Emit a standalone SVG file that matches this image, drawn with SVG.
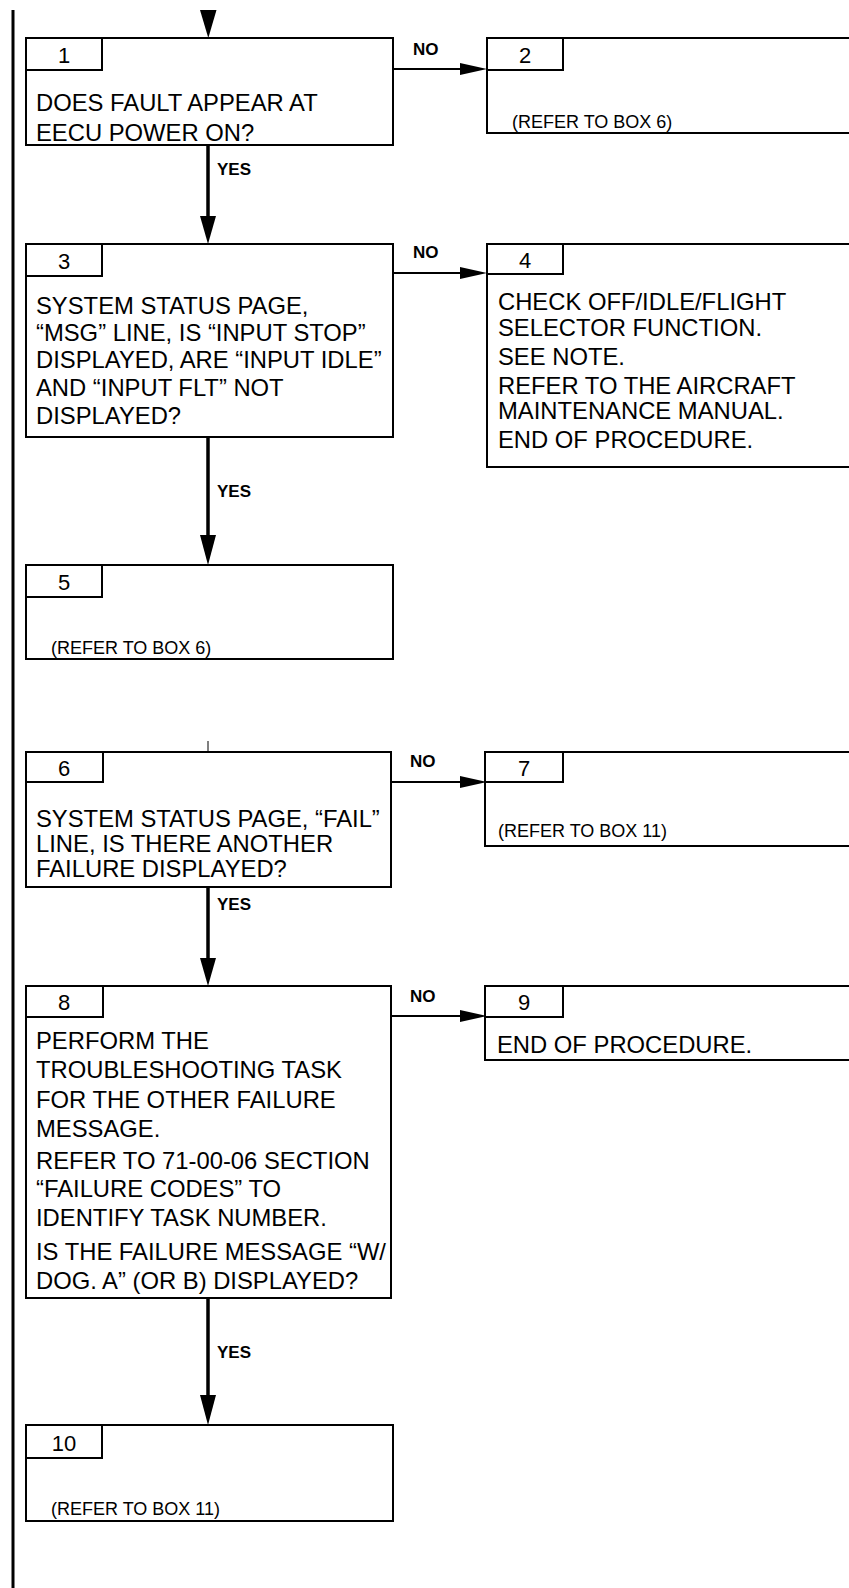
<svg xmlns="http://www.w3.org/2000/svg" width="849" height="1588" viewBox="0 0 849 1588">
<style>
.box{fill:#fff;stroke:#000;stroke-width:2}
.tab{fill:none;stroke:#000;stroke-width:2}
.num{font-family:"Liberation Sans",Arial,sans-serif;font-size:22px;text-anchor:middle;fill:#000}
.t{font-family:"Liberation Sans",Arial,sans-serif;font-size:23.8px;fill:#000}
.r{font-family:"Liberation Sans",Arial,sans-serif;font-size:18px;fill:#000}
.lbl{font-family:"Liberation Sans",Arial,sans-serif;font-size:17px;font-weight:bold;fill:#000}
.v{stroke:#000;stroke-width:3.5;fill:none}
.h{stroke:#000;stroke-width:2;fill:none}
.ah{fill:#000}
</style>
<rect x="0" y="0" width="849" height="1588" fill="#fff"/>
<line x1="13" y1="10" x2="13" y2="1588" stroke="#000" stroke-width="3"/>

<g id="connectors">
  <polygon class="ah" points="200,10 216.5,10 208.3,38"/>
  <line class="v" x1="208" y1="145" x2="208" y2="218"/>
  <polygon class="ah" points="200,216 216,216 208,244"/>
  <text class="lbl" x="217" y="175">YES</text>
  <line class="h" x1="393" y1="69" x2="462" y2="69"/>
  <polygon class="ah" points="460,63 487,69 460,75"/>
  <text class="lbl" x="413" y="55">NO</text>

  <line class="v" x1="208" y1="437" x2="208" y2="537"/>
  <polygon class="ah" points="200,535 216,535 208,565"/>
  <text class="lbl" x="217" y="497">YES</text>
  <line class="h" x1="393" y1="273" x2="462" y2="273"/>
  <polygon class="ah" points="460,267 487,273 460,279"/>
  <text class="lbl" x="413" y="258">NO</text>

  <line x1="208" y1="741" x2="208" y2="752" stroke="#000" stroke-width="1"/>

  <line class="v" x1="208" y1="887" x2="208" y2="960"/>
  <polygon class="ah" points="200,958 216,958 208,986"/>
  <text class="lbl" x="217" y="910">YES</text>
  <line class="h" x1="391" y1="782" x2="462" y2="782"/>
  <polygon class="ah" points="460,776 487,782 460,788"/>
  <text class="lbl" x="410" y="767">NO</text>

  <line class="h" x1="391" y1="1016" x2="462" y2="1016"/>
  <polygon class="ah" points="460,1010 487,1016 460,1022"/>
  <text class="lbl" x="410" y="1002">NO</text>

  <line class="v" x1="208" y1="1298" x2="208" y2="1397"/>
  <polygon class="ah" points="200,1395 216,1395 208,1425"/>
  <text class="lbl" x="217" y="1358">YES</text>
</g>

<g id="box1">
  <rect class="box" x="26" y="38" width="367" height="107"/>
  <rect class="tab" x="26" y="38" width="76" height="32"/>
  <text class="num" x="64" y="63">1</text>
  <text class="t" x="36" y="111">DOES FAULT APPEAR AT</text>
  <text class="t" x="36" y="141">EECU POWER ON?</text>
</g>

<g id="box2">
  <rect class="box" x="487" y="38" width="380" height="95"/>
  <rect class="tab" x="487" y="38" width="76" height="32"/>
  <text class="num" x="525" y="63">2</text>
  <text class="r" x="512" y="128">(REFER TO BOX 6)</text>
</g>

<g id="box3">
  <rect class="box" x="26" y="244" width="367" height="193"/>
  <rect class="tab" x="26" y="244" width="76" height="32"/>
  <text class="num" x="64" y="269">3</text>
  <text class="t" x="36" y="314">SYSTEM STATUS PAGE,</text>
  <text class="t" x="36" y="341">“MSG” LINE, IS “INPUT STOP”</text>
  <text class="t" x="36" y="368">DISPLAYED, ARE “INPUT IDLE”</text>
  <text class="t" x="36" y="396">AND “INPUT FLT” NOT</text>
  <text class="t" x="36" y="424">DISPLAYED?</text>
</g>

<g id="box4">
  <rect class="box" x="487" y="244" width="380" height="223"/>
  <rect class="tab" x="487" y="244" width="76" height="30"/>
  <text class="num" x="525" y="268">4</text>
  <text class="t" x="498" y="310">CHECK OFF/IDLE/FLIGHT</text>
  <text class="t" x="498" y="336">SELECTOR FUNCTION.</text>
  <text class="t" x="498" y="365">SEE NOTE.</text>
  <text class="t" x="498" y="394">REFER TO THE AIRCRAFT</text>
  <text class="t" x="498" y="419">MAINTENANCE MANUAL.</text>
  <text class="t" x="498" y="448">END OF PROCEDURE.</text>
</g>

<g id="box5">
  <rect class="box" x="26" y="565" width="367" height="94"/>
  <rect class="tab" x="26" y="565" width="76" height="32"/>
  <text class="num" x="64" y="590">5</text>
  <text class="r" x="51" y="654">(REFER TO BOX 6)</text>
</g>

<g id="box6">
  <rect class="box" x="26" y="752" width="365" height="135"/>
  <rect class="tab" x="26" y="752" width="77" height="30"/>
  <text class="num" x="64" y="776">6</text>
  <text class="t" x="36" y="827">SYSTEM STATUS PAGE, “FAIL”</text>
  <text class="t" x="36" y="852">LINE, IS THERE ANOTHER</text>
  <text class="t" x="36" y="877">FAILURE DISPLAYED?</text>
</g>

<g id="box7">
  <rect class="box" x="485" y="752" width="380" height="94"/>
  <rect class="tab" x="485" y="752" width="78" height="30"/>
  <text class="num" x="524" y="776">7</text>
  <text class="r" x="498" y="837">(REFER TO BOX 11)</text>
</g>

<g id="box8">
  <rect class="box" x="26" y="986" width="365" height="312"/>
  <rect class="tab" x="26" y="986" width="77" height="31"/>
  <text class="num" x="64" y="1010">8</text>
  <text class="t" x="36" y="1049">PERFORM THE</text>
  <text class="t" x="36" y="1078">TROUBLESHOOTING TASK</text>
  <text class="t" x="36" y="1108">FOR THE OTHER FAILURE</text>
  <text class="t" x="36" y="1137">MESSAGE.</text>
  <text class="t" x="36" y="1169">REFER TO 71-00-06 SECTION</text>
  <text class="t" x="36" y="1197">“FAILURE CODES” TO</text>
  <text class="t" x="36" y="1226">IDENTIFY TASK NUMBER.</text>
  <text class="t" x="36" y="1260">IS THE FAILURE MESSAGE “W/</text>
  <text class="t" x="36" y="1289">DOG. A” (OR B) DISPLAYED?</text>
</g>

<g id="box9">
  <rect class="box" x="485" y="986" width="380" height="74"/>
  <rect class="tab" x="485" y="986" width="78" height="31"/>
  <text class="num" x="524" y="1010">9</text>
  <text class="t" x="497" y="1053">END OF PROCEDURE.</text>
</g>

<g id="box10">
  <rect class="box" x="26" y="1425" width="367" height="96"/>
  <rect class="tab" x="26" y="1425" width="76" height="33"/>
  <text class="num" x="64" y="1451">10</text>
  <text class="r" x="51" y="1515">(REFER TO BOX 11)</text>
</g>
</svg>
